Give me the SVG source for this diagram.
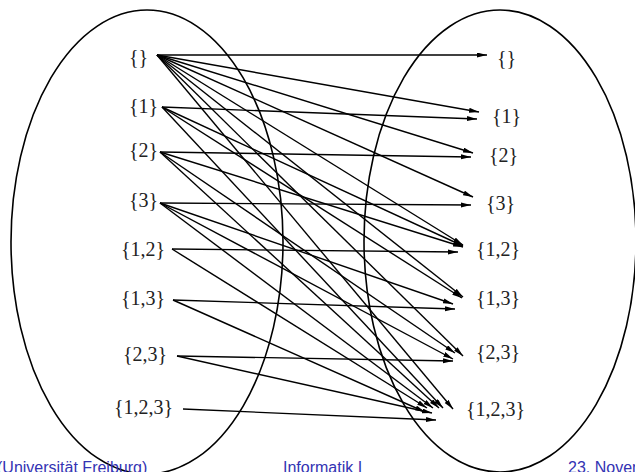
<svg xmlns="http://www.w3.org/2000/svg" width="635" height="472" viewBox="0 0 635 472">
<style>
.set{fill:none;stroke:#000;stroke-width:1.6}
.e{stroke:#000;stroke-width:1.4;fill:none;marker-end:url(#ah)}
.lbl{font-family:"Liberation Serif","Times New Roman",serif;font-size:20px;fill:#222}
.foot{font-family:"Liberation Sans",Arial,sans-serif;font-size:16px;fill:#3333b3}
</style>
<defs>
<marker id="ah" markerUnits="userSpaceOnUse" markerWidth="11" markerHeight="6" refX="10" refY="2.5" orient="auto">
<path d="M0,0 L10,2.5 L0,5 z" fill="#000"/>
</marker>
</defs>
<rect width="635" height="472" fill="#fff"/>
<g id="domain"><ellipse class="set" cx="147" cy="242" rx="136" ry="232"/></g>
<g id="codomain"><ellipse class="set" cx="500" cy="241" rx="136" ry="231"/></g>
<g id="connectors">
<line class="e" x1="157" y1="55" x2="487" y2="55"/>
<line class="e" x1="157" y1="55" x2="479" y2="112"/>
<line class="e" x1="157" y1="55" x2="473" y2="153"/>
<line class="e" x1="157" y1="55" x2="473" y2="197"/>
<line class="e" x1="157" y1="55" x2="463" y2="245"/>
<line class="e" x1="157" y1="55" x2="463" y2="297"/>
<line class="e" x1="157" y1="55" x2="463" y2="356"/>
<line class="e" x1="157" y1="55" x2="453" y2="409"/>
<line class="e" x1="162" y1="107" x2="477" y2="119"/>
<line class="e" x1="162" y1="107" x2="463" y2="246"/>
<line class="e" x1="162" y1="107" x2="462" y2="298"/>
<line class="e" x1="162" y1="107" x2="443" y2="408"/>
<line class="e" x1="160" y1="152" x2="471" y2="157"/>
<line class="e" x1="160" y1="152" x2="463" y2="247"/>
<line class="e" x1="160" y1="152" x2="455" y2="353"/>
<line class="e" x1="160" y1="152" x2="439" y2="408"/>
<line class="e" x1="160" y1="203" x2="471" y2="205"/>
<line class="e" x1="160" y1="203" x2="453" y2="304"/>
<line class="e" x1="160" y1="203" x2="453" y2="359"/>
<line class="e" x1="160" y1="203" x2="433" y2="408"/>
<line class="e" x1="172" y1="249" x2="458" y2="252"/>
<line class="e" x1="172" y1="249" x2="427" y2="408"/>
<line class="e" x1="173" y1="300" x2="455" y2="309"/>
<line class="e" x1="173" y1="300" x2="425" y2="412"/>
<line class="e" x1="177" y1="356" x2="453" y2="361"/>
<line class="e" x1="177" y1="356" x2="432" y2="413"/>
<line class="e" x1="183" y1="409" x2="436" y2="420"/>
</g>
<g id="l0"><text class="lbl" x="129" y="64">{}</text></g>
<g id="l1"><text class="lbl" x="129" y="113">{1}</text></g>
<g id="l2"><text class="lbl" x="129" y="157">{2}</text></g>
<g id="l3"><text class="lbl" x="129" y="207">{3}</text></g>
<g id="l12"><text class="lbl" x="121" y="256">{1,2}</text></g>
<g id="l13"><text class="lbl" x="121" y="305">{1,3}</text></g>
<g id="l23"><text class="lbl" x="123" y="361">{2,3}</text></g>
<g id="l123"><text class="lbl" x="114" y="414">{1,2,3}</text></g>
<g id="r0"><text class="lbl" x="497" y="65">{}</text></g>
<g id="r1"><text class="lbl" x="492" y="123">{1}</text></g>
<g id="r2"><text class="lbl" x="489" y="162">{2}</text></g>
<g id="r3"><text class="lbl" x="486" y="210">{3}</text></g>
<g id="r12"><text class="lbl" x="476" y="256">{1,2}</text></g>
<g id="r13"><text class="lbl" x="476" y="305">{1,3}</text></g>
<g id="r23"><text class="lbl" x="476" y="359">{2,3}</text></g>
<g id="r123"><text class="lbl" x="466" y="416">{1,2,3}</text></g>
<g id="footer">
<text class="foot" x="-3" y="473">(Universität Freiburg)</text>
<text class="foot" x="283" y="473">Informatik I</text>
<text class="foot" x="568" y="473">23. November</text>
</g>
</svg>
